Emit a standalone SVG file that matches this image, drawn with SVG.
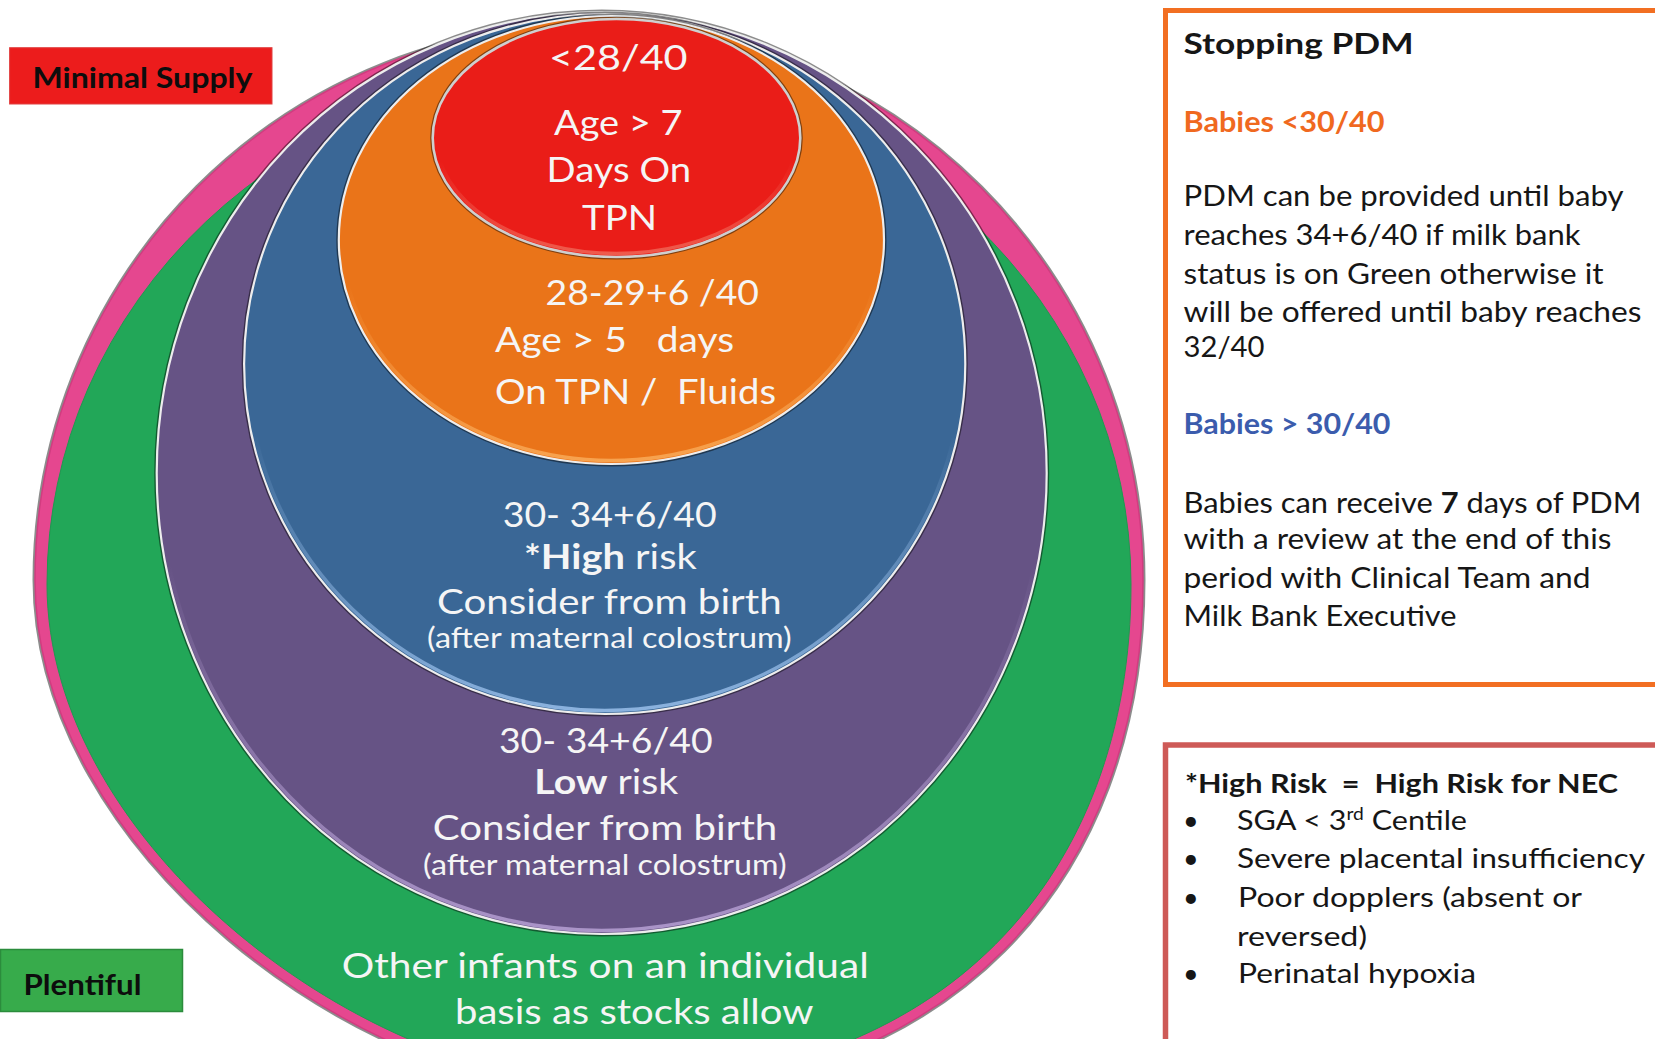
<svg xmlns="http://www.w3.org/2000/svg" width="1655" height="1039" viewBox="0 0 1655 1039">
<style>
  text { font-family: Lato, "Open Sans", "Liberation Sans", sans-serif; }
  .w { fill: #F5F5F5; font-size: 34px; text-anchor: middle; }
  .ws { fill: #F5F5F5; font-size: 28px; text-anchor: middle; }
  .bd { font-weight: 700; }
  .k { fill: #161616; font-size: 29px; }
  .kr { fill: #161616; font-size: 27px; }
  .lbl { fill: #0d0d0d; font-size: 28px; font-weight: 700; }
  .shadow { fill: none; stroke: #000; stroke-opacity: 0.45; stroke-width: 5; }
  .rim { stroke: #EDEDED; stroke-width: 2.2; }
  .hl { fill: none; stroke-width: 3.5; }
</style>
<defs>
  <linearGradient id="hlBlue" x1="0" y1="0" x2="0" y2="1">
    <stop offset="0.6" stop-color="#8FB6E2" stop-opacity="0"/>
    <stop offset="1" stop-color="#8FB6E2" stop-opacity="0.95"/>
  </linearGradient>
  <linearGradient id="hlPurple" x1="0" y1="0" x2="0" y2="1">
    <stop offset="0.6" stop-color="#AE98CC" stop-opacity="0"/>
    <stop offset="1" stop-color="#AE98CC" stop-opacity="0.95"/>
  </linearGradient>
  <linearGradient id="hlOrange" x1="0" y1="0" x2="0" y2="1">
    <stop offset="0.6" stop-color="#F8A552" stop-opacity="0"/>
    <stop offset="1" stop-color="#F8A552" stop-opacity="0.95"/>
  </linearGradient>
  <linearGradient id="hlRed" x1="0" y1="0" x2="0" y2="1">
    <stop offset="0.6" stop-color="#F06A5A" stop-opacity="0"/>
    <stop offset="1" stop-color="#F06A5A" stop-opacity="0.8"/>
  </linearGradient>
</defs>
<rect width="1655" height="1039" fill="#FFFFFF"/>

<g id="node-pink">
  <path class="shadow" d="M35 580 A554 555 0 0 1 1143 580 C1143 880 950 1095 610 1095 C360 1095 35 850 35 580 Z"/>
  <path d="M35 580 A554 555 0 0 1 1143 580 C1143 880 950 1095 610 1095 C360 1095 35 850 35 580 Z" fill="#E5478F" stroke="#D23C80" stroke-width="1.5"/>
</g>

<g id="node-green">
  <path d="M47 584 A542 512 0 0 1 1131 584 C1131 876 944 1085 610 1085 C366 1085 47 846 47 584 Z" fill="#22A758" stroke="#1E9A50" stroke-width="1"/>
  <text class="w" x="605.3" y="977.5" textLength="527" lengthAdjust="spacingAndGlyphs">Other infants on an individual</text>
  <text class="w" x="634.3" y="1024" textLength="358.6" lengthAdjust="spacingAndGlyphs">basis as stocks allow</text>
</g>

<g id="node-purple">
  <ellipse class="shadow" cx="601.7" cy="473" rx="445" ry="461"/>
  <ellipse class="rim" cx="601.7" cy="473" rx="445" ry="461" fill="#665385"/>
  <ellipse class="hl" cx="601.7" cy="473" rx="441.5" ry="457.5" stroke="url(#hlPurple)"/>
  <text class="w" x="605.8" y="752.7" textLength="213.7" lengthAdjust="spacingAndGlyphs">30- 34+6/40</text>
  <text class="w" x="606.3" y="794.3" textLength="144" lengthAdjust="spacingAndGlyphs"><tspan class="bd">Low</tspan> risk</text>
  <text class="w" x="605" y="840" textLength="344.6" lengthAdjust="spacingAndGlyphs">Consider from birth</text>
  <text class="ws" x="604.8" y="875" textLength="363.7" lengthAdjust="spacingAndGlyphs">(after maternal colostrum)</text>
</g>

<g id="node-blue">
  <ellipse class="shadow" cx="604.7" cy="364" rx="360.6" ry="350"/>
  <ellipse class="rim" cx="604.7" cy="364" rx="360.6" ry="350" fill="#3A6796"/>
  <ellipse class="hl" cx="604.7" cy="364" rx="357" ry="346.5" stroke="url(#hlBlue)"/>
  <text class="w" x="609.7" y="527" textLength="214" lengthAdjust="spacingAndGlyphs">30- 34+6/40</text>
  <text class="w" x="610.3" y="568.5" textLength="172.7" lengthAdjust="spacingAndGlyphs"><tspan class="bd">*High</tspan> risk</text>
  <text class="w" x="609.3" y="614" textLength="344.7" lengthAdjust="spacingAndGlyphs">Consider from birth</text>
  <text class="ws" x="609.3" y="648" textLength="364.7" lengthAdjust="spacingAndGlyphs">(after maternal colostrum)</text>
</g>

<g id="node-orange">
  <ellipse class="shadow" cx="611.4" cy="240" rx="272.6" ry="224"/>
  <ellipse class="rim" cx="611.4" cy="240" rx="272.6" ry="224" fill="#EA7419"/>
  <ellipse class="hl" cx="611.4" cy="240" rx="269" ry="220.5" stroke="url(#hlOrange)"/>
  <text class="w" x="652.3" y="305" textLength="213.4" lengthAdjust="spacingAndGlyphs" xml:space="preserve">28-29+6 /40</text>
  <text class="w" x="614.5" y="352" textLength="239" lengthAdjust="spacingAndGlyphs" xml:space="preserve">Age &gt; 5   days</text>
  <text class="w" x="635.5" y="403.5" textLength="281" lengthAdjust="spacingAndGlyphs" xml:space="preserve">On TPN /  Fluids</text>
</g>

<g id="node-red">
  <ellipse class="shadow" cx="616.5" cy="138" rx="183.8" ry="119"/>
  <ellipse cx="616.5" cy="138" rx="183.8" ry="119" fill="#EA1D18" stroke="#CFCFCF" stroke-width="2.6"/>
  <ellipse class="hl" cx="616.5" cy="138" rx="180" ry="115.5" stroke="url(#hlRed)"/>
  <text class="w" x="618.3" y="69.5" textLength="138.6" lengthAdjust="spacingAndGlyphs">&lt;28/40</text>
  <text class="w" x="618.3" y="135" textLength="128.6" lengthAdjust="spacingAndGlyphs">Age &gt; 7</text>
  <text class="w" x="618.8" y="181.7" textLength="144.5" lengthAdjust="spacingAndGlyphs">Days On</text>
  <text class="w" x="619.5" y="230" textLength="75" lengthAdjust="spacingAndGlyphs">TPN</text>
</g>

<g id="label-minimal-supply">
  <rect x="9.6" y="47.7" width="262.4" height="56.3" fill="#EC1C1C" stroke="#E04040" stroke-width="1"/>
  <text class="lbl" x="32.5" y="88.3" textLength="220" lengthAdjust="spacingAndGlyphs">Minimal Supply</text>
</g>

<g id="label-plentiful">
  <rect x="0.5" y="949.5" width="182" height="62" fill="#37AB4B" stroke="#2B8C3C" stroke-width="1.5"/>
  <text class="lbl" x="23.5" y="995" textLength="118" lengthAdjust="spacingAndGlyphs">Plentiful</text>
</g>

<g id="box-stopping-pdm">
  <rect x="1165.5" y="10.5" width="520" height="674" fill="#FFFFFF" stroke="#F26F22" stroke-width="5"/>
  <text class="k bd" x="1183.5" y="53.6" font-size="32" textLength="230" lengthAdjust="spacingAndGlyphs">Stopping PDM</text>
  <text class="k bd" x="1183.5" y="131.7" style="fill:#F0691F" textLength="201" lengthAdjust="spacingAndGlyphs">Babies &lt;30/40</text>
  <text class="k" x="1183.5" y="206" textLength="440" lengthAdjust="spacingAndGlyphs">PDM can be provided until baby</text>
  <text class="k" x="1183.5" y="244.6" textLength="397" lengthAdjust="spacingAndGlyphs">reaches 34+6/40 if milk bank</text>
  <text class="k" x="1183.5" y="283.5" textLength="420" lengthAdjust="spacingAndGlyphs">status is on Green otherwise it</text>
  <text class="k" x="1183.5" y="322" textLength="458" lengthAdjust="spacingAndGlyphs">will be offered until baby reaches</text>
  <text class="k" x="1183.5" y="357" textLength="81" lengthAdjust="spacingAndGlyphs">32/40</text>
  <text class="k bd" x="1183.5" y="434" style="fill:#3B5CAD" textLength="207" lengthAdjust="spacingAndGlyphs">Babies &gt; 30/40</text>
  <text class="k" x="1183.5" y="512.5" textLength="458" lengthAdjust="spacingAndGlyphs">Babies can receive <tspan class="bd">7</tspan> days of PDM</text>
  <text class="k" x="1183.5" y="549" textLength="428" lengthAdjust="spacingAndGlyphs">with a review at the end of this</text>
  <text class="k" x="1183.5" y="587.5" textLength="407" lengthAdjust="spacingAndGlyphs">period with Clinical Team and</text>
  <text class="k" x="1183.5" y="626" textLength="273" lengthAdjust="spacingAndGlyphs">Milk Bank Executive</text>
</g>

<g id="box-high-risk">
  <rect x="1165.5" y="745" width="520" height="330" fill="#FFFFFF" stroke="#CE5A57" stroke-width="5.5"/>
  <text class="kr bd" x="1185" y="793" textLength="433" lengthAdjust="spacingAndGlyphs" xml:space="preserve">*High Risk  =  High Risk for NEC</text>
  <text class="kr" x="1183" y="830">•</text>
  <text class="kr" x="1183" y="868">•</text>
  <text class="kr" x="1183" y="907">•</text>
  <text class="kr" x="1183" y="983">•</text>
  <text class="kr" x="1237" y="830" textLength="230" lengthAdjust="spacingAndGlyphs">SGA &lt; 3<tspan font-size="17" dy="-10">rd</tspan><tspan dy="10"> Centile</tspan></text>
  <text class="kr" x="1237" y="868" textLength="408" lengthAdjust="spacingAndGlyphs">Severe placental insufficiency</text>
  <text class="kr" x="1238" y="907" textLength="344" lengthAdjust="spacingAndGlyphs">Poor dopplers (absent or</text>
  <text class="kr" x="1237" y="946" textLength="130" lengthAdjust="spacingAndGlyphs">reversed)</text>
  <text class="kr" x="1238" y="983" textLength="238" lengthAdjust="spacingAndGlyphs">Perinatal hypoxia</text>
</g>
</svg>
